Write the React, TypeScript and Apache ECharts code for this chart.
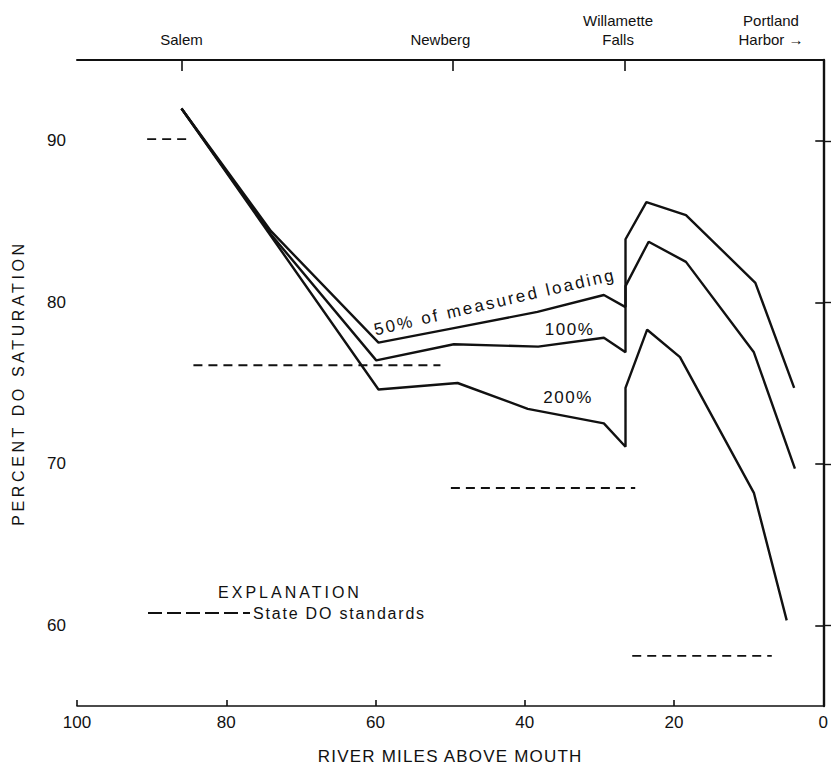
import { useEffect, useRef } from "react";
import * as echarts from "echarts";

// Simulated dissolved-oxygen profiles, Willamette River (river miles above mouth)
const milesLoad50 = [86, 74, 59.6, 49.5, 38.3, 29.4, 26.5, 26.5, 23.7, 18.4, 9.1, 3.9];
const satLoad50 = [92, 84.4, 77.5, 78.4, 79.4, 80.45, 79.7, 83.9, 86.2, 85.4, 81.2, 74.7];

const milesLoad100 = [86, 74, 59.9, 49.5, 38.2, 29.4, 26.5, 26.5, 23.4, 18.4, 9.3, 3.8];
const satLoad100 = [92, 84.2, 76.4, 77.4, 77.25, 77.8, 76.9, 81.0, 83.75, 82.5, 76.9, 69.7];

const milesLoad200 = [86, 59.6, 49.0, 39.6, 29.4, 26.5, 26.5, 23.6, 19.2, 9.3, 4.9];
const satLoad200 = [92, 74.6, 75.0, 73.4, 72.5, 71.05, 74.7, 78.3, 76.6, 68.2, 60.3];

// State DO standards by reach
const stdFromMile = [90.6, 84.4, 49.9, 25.6];
const stdToMile = [85.0, 51.3, 25.2, 6.9];
const stdLevel = [90.1, 76.1, 68.5, 58.1];

// Landmarks along the top axis
const townTickMiles = [86, 49.7, 26.6];
const townLabelMiles = [86, 51.3, 27.5, 7.0];
const townNames = ["Salem", "Newberg", "Willamette\nFalls", "Portland\nHarbor →"];

const yTicks = [60, 70, 80, 90];

// Curve captions anchored in data space
const captionText = ["50% of measured loading", "100%", "200%"];
const captionMile = [44.0, 34.0, 34.2];
const captionSat = [80.0, 78.3, 74.1];
const captionAngle = [13, 0, 0];

const FONT = "'Liberation Sans', Arial, Helvetica, sans-serif";
const INK = "#111";

const pairs = (xs: number[], ys: number[]) => xs.map((x, i) => [x, ys[i]]);

export default function App() {
  const ref = useRef<HTMLDivElement>(null);

  useEffect(() => {
    if (!ref.current) return;
    const chart = echarts.init(ref.current, undefined, { renderer: "svg" });

    const curve = (name: string, xs: number[], ys: number[]) => ({
      name,
      type: "line",
      xAxisIndex: 0,
      yAxisIndex: 0,
      data: pairs(xs, ys),
      symbol: "none",
      lineStyle: { color: INK, width: 2.4 },
      silent: true,
    });

    const standards = stdLevel.map((v, i) => ({
      name: "standard" + i,
      type: "line",
      xAxisIndex: 0,
      yAxisIndex: 0,
      data: [
        [stdFromMile[i], v],
        [stdToMile[i], v],
      ],
      symbol: "none",
      lineStyle: { color: INK, width: 1.8, type: [9, 6] },
      silent: true,
    }));

    const axisText = { color: INK, fontFamily: FONT, fontSize: 17 };

    chart.setOption({
      animation: false,
      grid: { left: 77, top: 60, width: 755, height: 646, containLabel: false },
      xAxis: [
        {
          type: "value",
          position: "bottom",
          min: 0,
          max: 100,
          interval: 20,
          inverse: true,
          name: "RIVER MILES ABOVE MOUTH",
          nameLocation: "middle",
          nameGap: 42,
          nameTextStyle: { color: INK, fontFamily: FONT, fontSize: 17 },
          axisLine: { show: true, lineStyle: { color: INK, width: 1.6 } },
          axisTick: { show: true, inside: true, length: 6, lineStyle: { color: INK, width: 1.6 } },
          axisLabel: { ...axisText, margin: 8 },
          splitLine: { show: false },
        },
        {
          type: "value",
          position: "top",
          min: 0,
          max: 100,
          inverse: true,
          axisLine: { show: true, lineStyle: { color: INK, width: 2 } },
          axisTick: {
            show: true,
            inside: true,
            length: 11,
            customValues: townTickMiles,
            lineStyle: { color: INK, width: 1.6 },
          },
          axisLabel: {
            color: INK,
            fontFamily: FONT,
            fontSize: 15,
            lineHeight: 19,
            margin: 11,
            customValues: townLabelMiles,
            formatter: (val: number) => {
              let best = 0;
              townLabelMiles.forEach((m, i) => {
                if (Math.abs(m - val) < Math.abs(townLabelMiles[best] - val)) best = i;
              });
              return townNames[best];
            },
          },
          splitLine: { show: false },
        },
      ],
      yAxis: [
        {
          type: "value",
          position: "left",
          min: 55,
          max: 95,
          name: "PERCENT DO SATURATION",
          nameLocation: "middle",
          nameGap: 51,
          nameTextStyle: { color: INK, fontFamily: FONT, fontSize: 16 },
          axisLine: { show: true, lineStyle: { color: INK, width: 2.4 } },
          axisTick: {
            show: true,
            inside: true,
            length: 10,
            customValues: yTicks,
            lineStyle: { color: INK, width: 1.4 },
          },
          axisLabel: { ...axisText, margin: 11, customValues: yTicks },
          splitLine: { show: false },
        },
        {
          type: "value",
          position: "right",
          min: 55,
          max: 95,
          axisLine: { show: false },
          axisTick: {
            show: true,
            inside: true,
            length: 8,
            customValues: yTicks,
            lineStyle: { color: INK, width: 1.6 },
          },
          axisLabel: { show: false },
          splitLine: { show: false },
        },
      ],
      series: [
        curve("50%", milesLoad50, satLoad50),
        curve("100%", milesLoad100, satLoad100),
        curve("200%", milesLoad200, satLoad200),
        ...standards,
      ],
    });

    const captions = captionText.map((t, i) => {
      const [px, py] = chart.convertToPixel({ xAxisIndex: 0, yAxisIndex: 0 }, [
        captionMile[i],
        captionSat[i],
      ]) as number[];
      return {
        type: "text",
        x: px,
        y: py,
        rotation: (captionAngle[i] * Math.PI) / 180,
        silent: true,
        style: {
          text: t,
          fill: INK,
          font: `17px ${FONT}`,
          align: "center",
          verticalAlign: "middle",
        },
      };
    });

    chart.setOption({
      graphic: [
        ...captions,
        {
          type: "text",
          x: 290,
          y: 592,
          silent: true,
          style: {
            text: "EXPLANATION",
            fill: INK,
            font: `16px ${FONT}`,
            align: "center",
            verticalAlign: "middle",
          },
        },
        {
          type: "line",
          silent: true,
          shape: { x1: 148, y1: 613, x2: 250, y2: 613 },
          style: { stroke: INK, lineWidth: 1.8, lineDash: [14, 5] },
        },
        {
          type: "text",
          x: 253,
          y: 613,
          silent: true,
          style: {
            text: "State DO standards",
            fill: INK,
            font: `16px ${FONT}`,
            align: "left",
            verticalAlign: "middle",
          },
        },
      ],
    });

    // Spaced-out lettering for the titles and captions
    const spacing: Record<string, string> = {
      "PERCENT DO SATURATION": "3.6px",
      "RIVER MILES ABOVE MOUTH": "1.2px",
      "EXPLANATION": "3px",
      "State DO standards": "1.8px",
      "50% of measured loading": "2.4px",
      "100%": "1.5px",
      "200%": "1.5px",
    };
    const applySpacing = () => {
      ref.current?.querySelectorAll("text").forEach((el) => {
        const s = spacing[(el.textContent || "").trim()];
        if (s) el.setAttribute("letter-spacing", s);
      });
    };
    applySpacing();
    chart.on("finished", applySpacing);

    return () => {
      chart.dispose();
    };
  }, []);

  return (
    <div
      ref={ref}
      style={{ position: "fixed", left: 0, top: 0, width: 831, height: 775, background: "#fff" }}
    />
  );
}
